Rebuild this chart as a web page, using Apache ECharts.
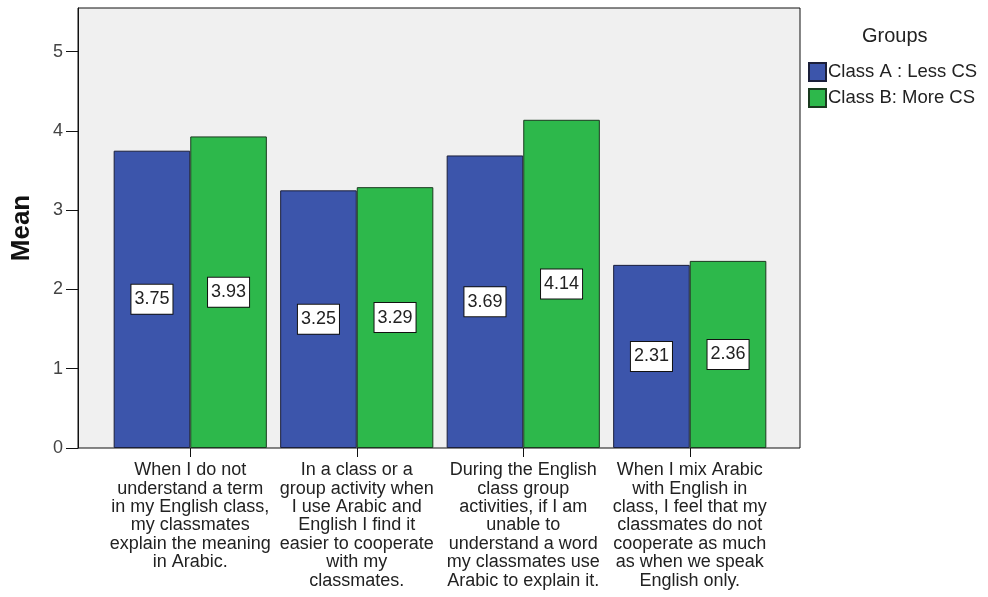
<!DOCTYPE html>
<html>
<head>
<meta charset="utf-8">
<script src="https://cdn.jsdelivr.net/npm/echarts@6/dist/echarts.min.js"></script>
<style>
  html, body { margin: 0; background: #fff; }
  #chart { width: 988px; height: 597px; }
</style>
</head>
<body>
<div id="chart"></div>
<script>
  // categories (pre-wrapped the way SPSS wraps them)
  const categories = [
    'When I do not\nunderstand a term\nin my English class,\nmy classmates\nexplain the meaning\nin Arabic.',
    'In a class or a\ngroup activity when\nI use Arabic and\nEnglish I find it\neasier to cooperate\nwith my\nclassmates.',
    'During the English\nclass group\nactivities, if I am\nunable to\nunderstand a word\nmy classmates use\nArabic to explain it.',
    'When I mix Arabic\nwith English in\nclass, I feel that my\nclassmates do not\ncooperate as much\nas when we speak\nEnglish only.'
  ];
  const seriesNames = ['Class A : Less CS', 'Class B: More CS'];
  const classA = [3.75, 3.25, 3.69, 2.31];
  const classB = [3.93, 3.29, 4.14, 2.36];
  const yTicks = [0, 1, 2, 3, 4, 5];

  const font = '"Liberation Sans", Arial, sans-serif';
  const yMax = 5.55;

  let chart = echarts.init(document.getElementById('chart'), null, { renderer: 'canvas' });

  const barLabel = {
    show: true,
    position: 'inside',
    formatter: p => p.value.toFixed(2),
    backgroundColor: '#fff',
    borderColor: '#111',
    borderWidth: 1,
    padding: [6, 3, 5, 3],
    fontSize: 18,
    fontFamily: font,
    color: '#222'
  };

  chart.setOption({
    animation: false,
    title: {
      text: 'Groups',
      left: 857,
      top: 21,
      textStyle: { fontSize: 20, fontWeight: 'normal', color: '#222', fontFamily: font }
    },
    legend: {
      orient: 'vertical',
      left: 803,
      top: 57,
      itemWidth: 17,
      itemHeight: 18,
      itemGap: 6,
      icon: 'rect',
      data: seriesNames,
      textStyle: { fontSize: 18.5, lineHeight: 18, color: '#222', fontFamily: font, padding: [0, 0, 0, -3] }
    },
    grid: [
      // bars
      { left: 107, right: 215, top: 8, bottom: 149 },
      // frame + y axis
      { left: 78, right: 188, top: 8, bottom: 149, show: true,
        backgroundColor: '#f0f0f0', borderColor: '#111', borderWidth: 1 }
    ],
    xAxis: [
      {
        type: 'category',
        gridIndex: 0,
        data: categories,
        axisLine: { show: false },
        axisTick: { show: true, alignWithLabel: true, length: 9, lineStyle: { color: '#111' } },
        axisLabel: {
          interval: 0, margin: 13, fontSize: 18, lineHeight: 18.4,
          color: '#222', fontFamily: font, align: 'center'
        }
      },
      { type: 'value', gridIndex: 1, show: false }
    ],
    yAxis: [
      { type: 'value', gridIndex: 0, min: 0, max: yMax, show: false },
      {
        type: 'value',
        gridIndex: 1,
        min: 0,
        max: yMax,
        interval: 1,
        name: 'Mean',
        nameLocation: 'middle',
        nameGap: 43,
        nameTextStyle: { fontSize: 26, fontWeight: 'bold', color: '#111', fontFamily: font },
        axisLine: { show: true, lineStyle: { color: '#111' } },
        axisTick: { show: true, length: 12, customValues: yTicks, lineStyle: { color: '#111' } },
        axisLabel: { fontSize: 18, color: '#444', margin: 15, fontFamily: font, customValues: yTicks },
        splitLine: { show: false }
      }
    ],
    series: [
      {
        name: seriesNames[0],
        type: 'bar',
        xAxisIndex: 0,
        yAxisIndex: 0,
        data: classA,
        barGap: '0%',
        barCategoryGap: '8%',
        itemStyle: { color: '#3c55ab', borderColor: '#1b1f3a', borderWidth: 1 },
        label: barLabel
      },
      {
        name: seriesNames[1],
        type: 'bar',
        xAxisIndex: 0,
        yAxisIndex: 0,
        data: classB,
        barGap: '0%',
        barCategoryGap: '8%',
        itemStyle: { color: '#2db84b', borderColor: '#1a3a1f', borderWidth: 1 },
        label: barLabel
      }
    ]
  });
</script>
</body>
</html>
